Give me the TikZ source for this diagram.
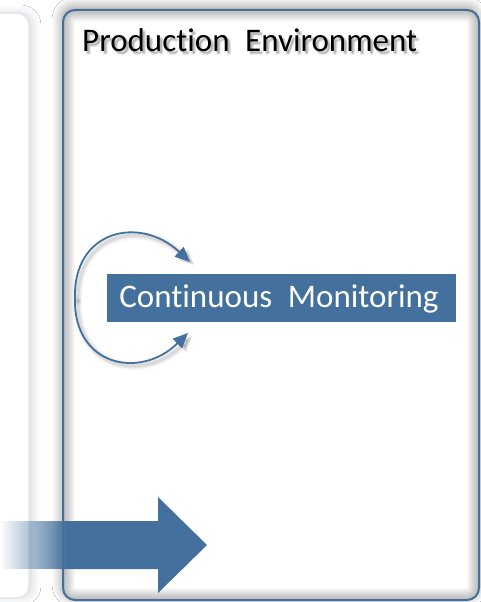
\documentclass[tikz,border=0pt]{standalone}
\usepackage{fontspec}
\setmainfont{Carlito}[WordSpace=2.1, Ligatures=NoCommon]
\usetikzlibrary{shadows.blur,fadings,arrows.meta}
\definecolor{steel}{HTML}{44709D}
\definecolor{faint}{RGB}{222,231,240}
\tikzfading[name=fadein, left color=transparent!100, right color=transparent!0]
\tikzset{
  bigfont/.style={font=\fontsize{33}{38}\selectfont, inner sep=0pt},
  loopline/.style={steel, line width=1.8pt, -{Triangle[length=15pt, width=13pt]}},
  loopshadow/.style={black, line cap=round, -{Triangle[length=15pt, width=13pt]}},
  boxpath/.style={rounded corners=12pt}
}
\begin{document}
\begin{tikzpicture}[x=1pt,y=-1pt]
\useasboundingbox (0,0) rectangle (481,602);
\fill[white] (0,0) rectangle (481,602);
% left faint box
\draw[boxpath, draw=faint, line width=1.5pt, fill=white,
  blur shadow={shadow xshift=4pt, shadow yshift=0pt, shadow opacity=14, shadow blur radius=8pt}]
  (-100,13) rectangle (29,598);
\draw[boxpath, draw=faint, line width=1.5pt, fill=white] (-100,13) rectangle (29,598);
% main box with outer shadow
\path[boxpath, fill=white,
  blur shadow={shadow xshift=-1pt, shadow yshift=3pt, shadow opacity=40, shadow blur radius=10pt, shadow blur steps=12}]
  (63,10) rectangle (479,600);
% inner shadow
\begin{scope}
  \clip[boxpath] (63,10) rectangle (479,600);
  \foreach \w in {2,4,...,24} {
    \draw[boxpath, black, opacity=0.022, line width=\w pt] (63,10) rectangle (479,600);
  }
\end{scope}
\draw[boxpath, steel, line width=2pt] (63,10) rectangle (479,600);
% title with soft shadow
\foreach \dx/\dy [count=\k] in {1.5/1.5,2.5/2.5,3.5/3,2/3.5,3/1.8} {
  \node[bigfont, anchor=base west, text=black, opacity=0.07] (titleshadow\k) at (82+\dx,52+\dy) {Production Environment};
}
\node[bigfont, anchor=base west, text=black] (title) at (82,52) {Production Environment};
% loop arrows
\coordinate (cl) at (75,298);
\coordinate (ctop) at (190,262);
\coordinate (cbot) at (188,333);
\coordinate (cls) at (78,301);
\coordinate (ctops) at (194,265);
\coordinate (cbots) at (192,336);
\foreach \w/\o in {8/0.04,5/0.05,3/0.06} {
  \draw[loopshadow, line width=\w pt, opacity=\o] (cls) .. controls (76,233) and (143,218) .. (ctops);
  \draw[loopshadow, line width=\w pt, opacity=\o] (cls) .. controls (76,369) and (143,383) .. (cbots);
}
\draw[loopline] (cl) .. controls (73,230) and (140,215) .. (ctop);
\draw[loopline] (cl) .. controls (73,366) and (140,380) .. (cbot);
% monitoring box
\node[fill=steel, minimum width=349pt, minimum height=48pt, inner sep=0pt] (mon) at (281.5,298) {};
\node[bigfont, anchor=base, text=white] (monlabel) at (279,307) {Continuous Monitoring};
% big arrow
\fill[steel, path fading=fadein] (0,521) rectangle (70,569);
\fill[steel] (65,521) -- (158,521) -- (158,497) -- (207,545) -- (158,593) -- (158,569) -- (65,569) -- cycle;
\end{tikzpicture}
\end{document}
